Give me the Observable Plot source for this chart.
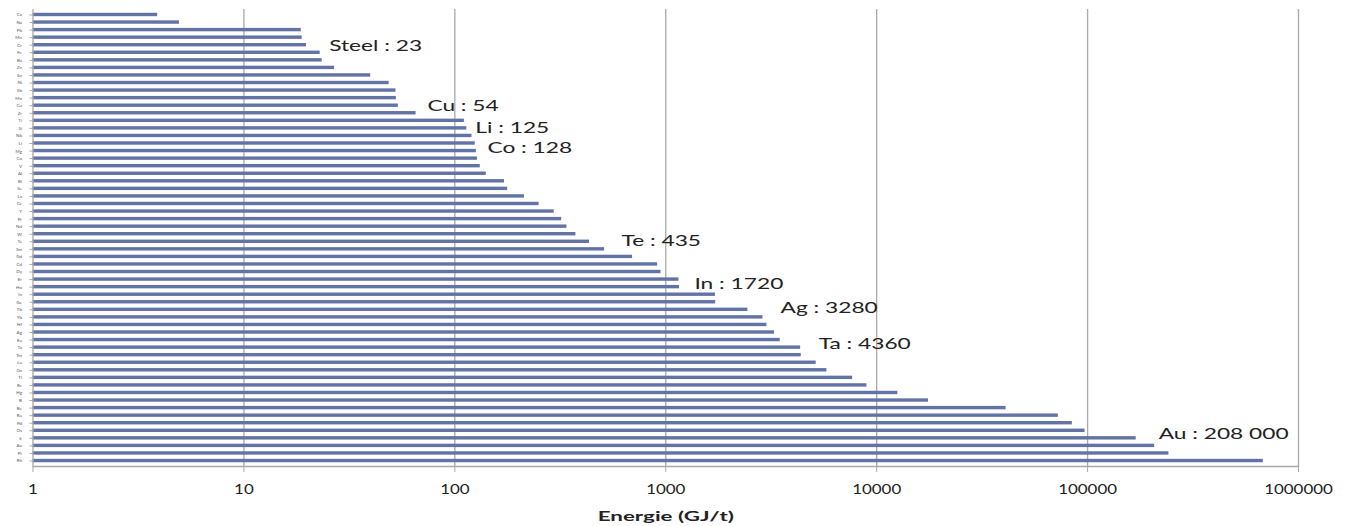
<!DOCTYPE html>
<html>
<head>
<meta charset="utf-8">
<script src="https://cdn.jsdelivr.net/npm/d3@7"></script>
<script src="https://cdn.jsdelivr.net/npm/@observablehq/plot@0.6"></script>
<style>
  html, body { margin: 0; padding: 0; background: #fff; }
  #chart svg { display: block; }
  #chart [aria-label="x-axis label"] text { font-weight: bold; }
</style>
</head>
<body>
<div id="chart"></div>
<script>
// Metals, ordered top to bottom (ascending energy, GJ/t)
const metals = ["Ca","Na","Pb","Mn","Cr","Fe","Ba","Zn","Sn","Ni",
  "Sb","Mo","Cu","Zr","Ti","Si","Nb","Li","Mg","Co",
  "V","Al","Bi","Se","La","Ce","Y","Pr","Nd","W",
  "Te","Sm","Gd","Cd","Dy","Er","Ho","In","Ge","Tb",
  "Yb","Hf","Ag","Eu","Ta","Tm","Lu","Ga","Tl","Re",
  "Hg","B","Be","Ru","Pd","Os","Ir","Au","Pt","Rh"];
const energy = [3.9,4.95,18.7,18.9,19.8,23,23.5,26.9,39.9,48.8,
  52.6,52.8,54,65.5,111,114,120.6,125,126.5,128,
  132,141,172,178,214,251,296,321,340,375,
  435,513,696,915,949,1155,1163,1720,1725,2453,
  2890,3018,3280,3490,4360,4390,5166,5810,7690,8990,
  12600,17600,41100,72700,84700,97300,170000,208000,243000,681000];

// Annotated metals and their label texts
const labelMetals = ["Fe","Cu","Li","Co","Te","In","Ag","Ta","Au"];
const labelTexts = ["Steel : 23","Cu : 54","Li : 125","Co : 128","Te : 435","In : 1720","Ag : 3280","Ta : 4360","Au : 208 000"];

// x-axis ticks
const xTicks = [1,10,100,1000,10000,100000,1000000];
const xTickLabels = ["1","10","100","1000","10000","100000","1000000"];

const data = metals.map((m, i) => ({metal: m, value: energy[i]}));
const labels = labelMetals.map((m, i) => ({metal: m, value: energy[metals.indexOf(m)], text: labelTexts[i]}));

// label placement offsets (layout only)
const offsets = [[9,-7],[29,0],[0,-15.5],[10,-10.5],[32,-1],[-21,-11],[6,-25],[18,-4],[4,-12]];

const barColor = "#6473a5";
const gridColor = "#a9a9a9";

const labelMarks = labels.map((d, i) =>
  Plot.text([d], {x: "value", y: "metal", text: "text", textAnchor: "start",
    dx: offsets[i][0], dy: offsets[i][1], fontSize: 16, fill: "#222"}));

const chart = Plot.plot({
  width: 1350,
  height: 526,
  marginTop: 9,
  marginBottom: 60,
  marginLeft: 32.5,
  marginRight: 52,
  style: {fontFamily: "Lato, 'Open Sans', sans-serif", background: "#fff"},
  x: {type: "log", domain: [1, 1000000]},
  y: {domain: metals, paddingInner: 0.55, paddingOuter: 0.5},
  marks: [
    Plot.ruleX(xTicks.slice(1), {stroke: gridColor, strokeWidth: 1.3}),
    Plot.barX(data, {x1: 1, x2: "value", y: "metal", fill: barColor}),
    Plot.ruleX([1], {stroke: gridColor, strokeWidth: 1.3}),
    Plot.frame({anchor: "bottom", stroke: gridColor, strokeWidth: 1.3}),
    Plot.axisY({tickSize: 3, tickPadding: 8, fontSize: 4.5, label: null, fill: "#555", stroke: gridColor}),
    Plot.axisX({ticks: xTicks, tickFormat: (d) => xTickLabels[xTicks.indexOf(d)], tickSize: 6, tickPadding: 12,
      fontSize: 13, fill: "#222", stroke: gridColor,
      label: "Energie (GJ/t)", labelAnchor: "center", labelArrow: "none", labelOffset: 54}),
    ...labelMarks
  ]
});
document.getElementById("chart").appendChild(chart);

// The reference typography is horizontally stretched; emulate with textLength
function stretch(selector, factor) {
  chart.querySelectorAll(selector).forEach((t) => {
    const L = t.getComputedTextLength();
    if (L > 0) {
      t.setAttribute("textLength", L * factor);
      t.setAttribute("lengthAdjust", "spacingAndGlyphs");
    }
  });
}
stretch('g[aria-label="text"] text', 1.42);
stretch('g[aria-label="x-axis tick label"] text', 1.3);
const axisLabel = chart.querySelector('g[aria-label="x-axis label"] text');
if (axisLabel) {
  axisLabel.setAttribute("font-size", 14);
  axisLabel.style.fontSize = "14px";
}
stretch('g[aria-label="x-axis label"] text', 1.6);
</script>
</body>
</html>
